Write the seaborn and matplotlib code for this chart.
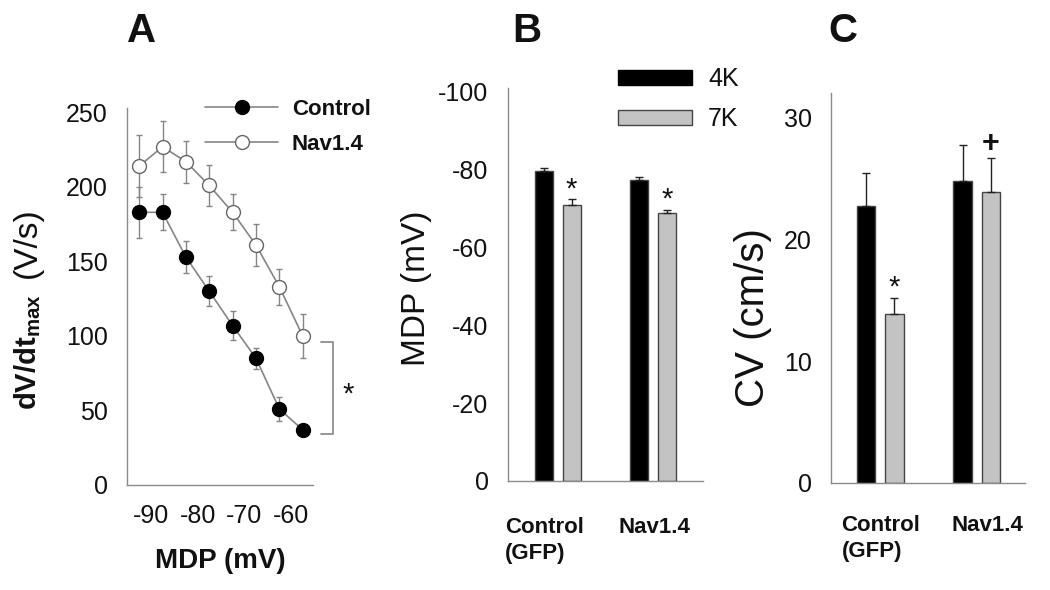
import numpy as np
import pandas as pd
import matplotlib
matplotlib.use('Agg')
import matplotlib.pyplot as plt
import seaborn as sns
from matplotlib.patches import Patch
from matplotlib.lines import Line2D
import matplotlib.transforms as mtransforms

# Painel A: dV/dt max em função do MDP
mdp_a = [-92.5, -87.5, -82.5, -77.5, -72.5, -67.5, -62.5, -57.5]
dvdt_control = [183, 183, 153, 130, 107, 85, 51, 37]
dvdt_control_err = [17, 12, 11, 10, 10, 7, 8, 3]
dvdt_nav = [214, 227, 217, 201, 183, 161, 133, 100]
dvdt_nav_err = [21, 17, 14, 14, 12, 14, 12, 15]

# Painéis B e C: barras 4K / 7K
grupos = ['Control\n(GFP)', 'Nav1.4']
potassio = ['4K', '7K']
mdp_4k = [-79.7, -77.4]
mdp_7k = [-71.0, -68.8]
mdp_4k_err = [0.7, 0.7]
mdp_7k_err = [1.4, 0.9]
cv_4k = [22.7, 24.8]
cv_7k = [13.9, 23.9]
cv_4k_err = [2.7, 2.9]
cv_7k_err = [1.3, 2.8]
marcas_b = ['*', '*']
marcas_c = ['*', '+']

# Estilo
sns.set_theme(style='white')
plt.rcParams['font.family'] = ['Liberation Sans', 'DejaVu Sans']
plt.rcParams['mathtext.fontset'] = 'custom'
plt.rcParams['mathtext.rm'] = 'Liberation Sans'
plt.rcParams['mathtext.bf'] = 'Liberation Sans:bold'
plt.rcParams['axes.unicode_minus'] = False  # hífen simples como no original
plt.rcParams['text.color'] = '#111111'
plt.rcParams['axes.labelcolor'] = '#111111'

W, H = 1050, 590
fig = plt.figure(figsize=(W / 100, H / 100), dpi=100)
fig.patch.set_facecolor('white')


def eixo(left, top, right, bottom):
    # cria eixo a partir de coordenadas em pixels
    return fig.add_axes([left / W, 1 - bottom / H, (right - left) / W, (bottom - top) / H])


def estilo_eixo(ax):
    sns.despine(ax=ax)
    for s in ['left', 'bottom']:
        ax.spines[s].set_color('#8a8a8a')
        ax.spines[s].set_linewidth(1.0)
    ax.tick_params(direction='in', length=3, width=0.8, color='#8a8a8a',
                   labelsize=18, pad=14, labelcolor='#111111')
    ax.set_facecolor('white')


cinza_linha = '#858585'
cinza_barra = '#c3c3c3'

# ---------------- Painel A ----------------
axA = eixo(127, 108, 313, 485)
sns.lineplot(x=mdp_a, y=dvdt_nav, ax=axA, color=cinza_linha, lw=1.2,
             marker='o', markersize=10, markerfacecolor='white',
             markeredgecolor='#666666', markeredgewidth=1.0, zorder=3)
sns.lineplot(x=mdp_a, y=dvdt_control, ax=axA, color=cinza_linha, lw=1.2,
             marker='o', markersize=10, markerfacecolor='black',
             markeredgecolor='black', markeredgewidth=1.0, zorder=3)
axA.errorbar(mdp_a, dvdt_nav, yerr=dvdt_nav_err, fmt='none', ecolor=cinza_linha,
             elinewidth=1, capsize=2, zorder=2)
axA.errorbar(mdp_a, dvdt_control, yerr=dvdt_control_err, fmt='none', ecolor=cinza_linha,
             elinewidth=1, capsize=2, zorder=2)
axA.set_xlim(-95.1, -55.3)
axA.set_ylim(0, 253)
axA.set_xticks([-90, -80, -70, -60])
axA.set_yticks([0, 50, 100, 150, 200, 250])
estilo_eixo(axA)
axA.set_xlabel('MDP (mV)', fontsize=20, fontweight='bold', labelpad=14)

# colchete de significância
axA.plot([-53.6, -51.0, -51.0, -53.6], [dvdt_nav[-1] - 4, dvdt_nav[-1] - 4,
                                        dvdt_control[-1] - 3, dvdt_control[-1] - 3],
         color=cinza_linha, lw=1.2, clip_on=False)
axA.text(-47.8, (dvdt_nav[-1] + dvdt_control[-1]) / 2 - 8, '*', fontsize=21,
         ha='center', va='center', clip_on=False)

leg_a = [Line2D([], [], color=cinza_linha, lw=1.2, marker='o', markersize=10,
                markerfacecolor='black', markeredgecolor='black'),
         Line2D([], [], color=cinza_linha, lw=1.2, marker='o', markersize=10,
                markerfacecolor='white', markeredgecolor='#666666')]
axA.legend(leg_a, ['Control', 'Nav1.4'], loc='upper left',
           bbox_to_anchor=(205 / W, 1 - 99 / H), bbox_transform=fig.transFigure,
           frameon=False, prop={'weight': 'bold', 'size': 16}, handlelength=3.3,
           handletextpad=0.6, labelspacing=0.62, borderpad=0, borderaxespad=0)

fig.text(27.5 / W, 1 - 243 / H, '(V/s)', rotation=90, fontsize=24, ha='center', va='center')
fig.text(28 / W, 1 - 352 / H, r'$\mathbf{dV/dt_{max}}$', rotation=90, fontsize=21,
         ha='center', va='center')

# ---------------- Painéis B e C ----------------
df_b = pd.DataFrame({'grupo': grupos * 2, 'K': [potassio[0]] * 2 + [potassio[1]] * 2,
                     'valor': mdp_4k + mdp_7k, 'erro': mdp_4k_err + mdp_7k_err})
df_c = pd.DataFrame({'grupo': grupos * 2, 'K': [potassio[0]] * 2 + [potassio[1]] * 2,
                     'valor': cv_4k + cv_7k, 'erro': cv_4k_err + cv_7k_err})


def painel_barras(ax, df, marcas, invertido):
    sns.barplot(data=df, x='grupo', y='valor', hue='K', hue_order=potassio, order=grupos,
                palette=['black', cinza_barra], width=0.583, gap=0.345,
                edgecolor='#444444', linewidth=1, errorbar=None, legend=False, ax=ax)
    conts = list(ax.containers)
    for i, cont in enumerate(conts):
        sub = df[df['K'] == potassio[i]].set_index('grupo').loc[grupos]
        xs = [p.get_x() + p.get_width() / 2 for p in cont.patches]
        e = sub['erro'].values
        if invertido:
            yerr = [e, np.zeros_like(e)]
        else:
            yerr = [np.zeros_like(e), e]
        ax.errorbar(xs, sub['valor'].values, yerr=yerr, fmt='none', ecolor='#222222',
                    elinewidth=1, capsize=3, capthick=1, zorder=3)
        if i == 1:
            for x, v, err, m in zip(xs, sub['valor'].values, e, marcas):
                topo = v - err if invertido else v + err
                ax.annotate(m, xy=(x, topo), xytext=(0, -3 if m == '*' else -1),
                            textcoords='offset points', ha='center', va='bottom',
                            fontsize=21 if m == '*' else 22,
                            fontweight='bold' if m == '+' else 'normal')
    ax.set_xlabel('')
    ax.set_ylabel('')
    ax.set_xticks([0, 1])
    ax.set_xticklabels(['', ''])


axB = eixo(508, 88, 703, 481)
painel_barras(axB, df_b, marcas_b, invertido=True)
axB.set_xlim(-0.52, 1.52)
axB.set_ylim(0, -101)
axB.set_yticks([0, -20, -40, -60, -80, -100])
estilo_eixo(axB)
fig.text(417 / W, 1 - 288 / H, 'MDP (mV)', rotation=90, fontsize=24, ha='center', va='center')

axC = eixo(831, 93, 1025, 483)
painel_barras(axC, df_c, marcas_c, invertido=False)
axC.set_xlim(-0.51, 1.5)
axC.set_ylim(0, 32)
axC.set_yticks([0, 10, 20, 30])
estilo_eixo(axC)
fig.text(753 / W, 1 - 318 / H, 'CV (cm/s)', rotation=90, fontsize=29, ha='center', va='center')

# rótulos das categorias (alinhados à esquerda)
for ax, xs, ytop in [(axB, [-0.55, 0.635], -0.092), (axC, [-0.40, 0.74], -0.082)]:
    trans = mtransforms.blended_transform_factory(ax.transData, ax.transAxes)
    for x, g in zip(xs, grupos):
        ax.text(x, ytop, g, transform=trans, ha='left', va='top', fontsize=16,
                fontweight='bold', linespacing=1.3)

leg_b = [Patch(facecolor='black', edgecolor='black'),
         Patch(facecolor=cinza_barra, edgecolor='#444444')]
axB.legend(leg_b, potassio, loc='upper left', bbox_to_anchor=(618 / W, 1 - 67 / H),
           bbox_transform=fig.transFigure, frameon=False, fontsize=18,
           handlelength=2.96, handleheight=0.56, handletextpad=0.64,
           labelspacing=0.66, borderpad=0, borderaxespad=0)

# letras dos painéis
for letra, x in [('A', 142), ('B', 527), ('C', 843)]:
    fig.text(x / W, 1 - 31 / H, letra, fontsize=29, fontweight='bold', ha='center', va='center')

fig.savefig('out.png', dpi=100, facecolor='white')
